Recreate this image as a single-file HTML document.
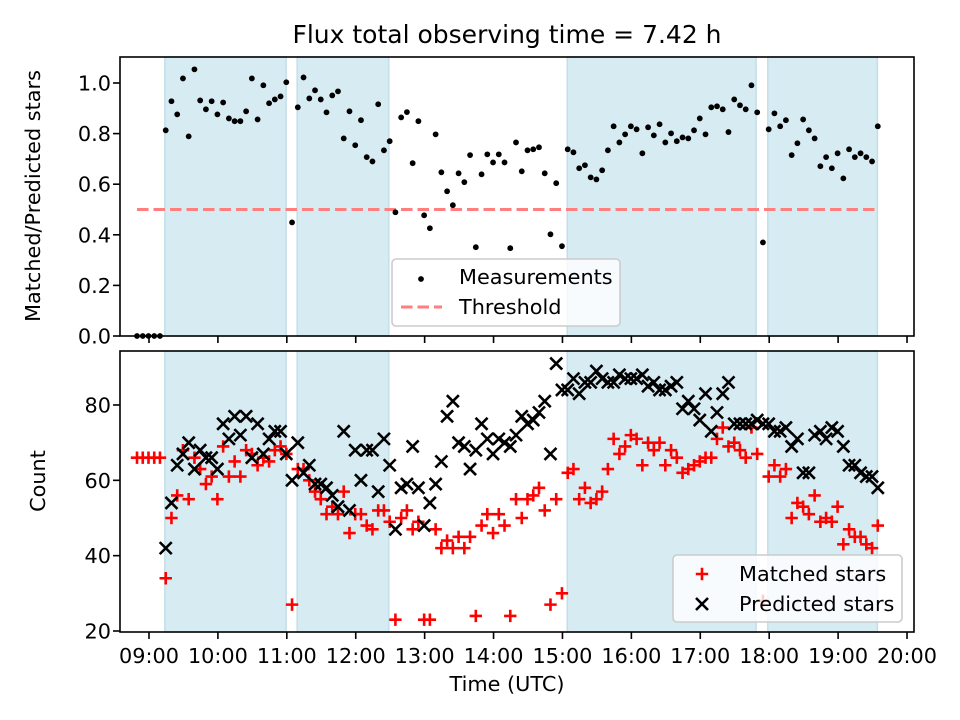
<!DOCTYPE html>
<html><head><meta charset="utf-8"><style>
html,body{margin:0;padding:0;background:#fff;}
svg{display:block;font-family:"DejaVu Sans","Liberation Sans",sans-serif;}
</style></head><body>
<svg id="fig" width="960" height="720" viewBox="0 0 960 720" xmlns="http://www.w3.org/2000/svg">
<rect x="0" y="0" width="960" height="720" fill="#fff"/>
<text x="507" y="43" font-size="25" text-anchor="middle">Flux total observing time = 7.42 h</text>
<g id="topPanel"></g>
<g id="botPanel"></g>
<text transform="translate(40,196) rotate(-90)" font-size="20.8" text-anchor="middle">Matched/Predicted stars</text>
<text transform="translate(45,481) rotate(-90)" font-size="20.8" text-anchor="middle">Count</text>
<text x="507" y="691" font-size="20.8" text-anchor="middle">Time (UTC)</text>
</svg>
<script>
const startHour = 8.826;
const stepMinutes = 5;
const ratio = [0,0,0,0,0,
.813,.928,.876,1.018,.789,1.054,.931,.896,.928,.876,.923,.860,.849,.849,.888,1.018,.856,.991,.920,.935,.947,1.003,.449,.904,1.022,
.939,.971,.935,.884,.951,.967,.781,.888,.754,.853,
.707,.690,.916,.734,.770,.489,.864,.885,.683,.849,
.477,.426,.797,.647,.572,.517,.643,.608,.715,.351,
.639,.718,.686,.718,.686,.347,.765,.651,.734,.738,
.746,.643,.402,.604,.355,.738,.726,.663,.675,.627,
.619,.655,.734,.829,.765,.797,.829,.817,.722,.825,
.793,.837,.765,.801,.770,.785,.781,.813,.860,.797,
.904,.908,.896,.806,.935,.912,.896,.991,.884,.370,
.817,.880,.829,.853,.715,.762,.856,.813,.781,.671,
.707,.663,.722,.623,.738,.707,.722,.707,.690,.829];
const matched = [66,66,66,66,66,
34,50,56,68,55,66,63,59,61,55,69,61,65,61,68,67,64,66,65,68,69,67,27,63,63,
60,57,55,51,53,51,57,46,51,51,
48,47,52,52,49,23,50,52,47,49,
23,23,47,42,44,42,45,42,45,24,
48,51,46,51,48,24,55,50,55,56,
58,52,27,55,30,62,63,55,58,54,
55,57,63,71,67,69,72,71,64,70,
68,70,64,68,66,62,63,64,65,66,
66,71,74,69,70,68,66,74,67,28,
61,64,61,63,50,54,53,51,56,49,
50,49,53,43,47,45,45,43,42,48];
const predicted = [null,null,null,null,null,
42,54,64,67,70,63,68,66,66,63,75,71,77,72,77,66,75,67,71,73,73,67,60,70,62,
64,59,59,58,56,53,73,52,68,60,
68,68,57,71,64,47,58,59,69,58,
48,54,59,65,77,81,70,69,63,68,
75,71,67,71,70,69,72,77,75,76,
78,81,67,91,84,84,87,83,86,86,
89,87,86,86,88,87,87,87,88,85,
86,84,84,85,86,79,81,79,76,83,
73,78,83,86,75,75,75,75,76,75,
75,73,73,74,69,71,62,62,72,73,
71,74,73,69,64,64,62,61,61,58];
const spanStarts = [9.23, 11.15, 15.07, 17.98];
const spanEnds = [10.99, 12.48, 17.81, 19.57];
const threshold = 0.5;
const xTickHours = [9,10,11,12,13,14,15,16,17,18,19,20];
const xTickLabels = ["09:00","10:00","11:00","12:00","13:00","14:00","15:00","16:00","17:00","18:00","19:00","20:00"];
const topTicks = [0.0,0.2,0.4,0.6,0.8,1.0];
const topTickLabels = ["0.0","0.2","0.4","0.6","0.8","1.0"];
const botTicks = [20,40,60,80];
const botTickLabels = ["20","40","60","80"];

const NS = "http://www.w3.org/2000/svg";
const L = 120, R = 914;
const TT = 57, TB = 336, BT = 351, BB = 632;
function xS(h){ return 149 + (h - 9) * 68.91; }
function yTop(v){ return 336 - v * 253; }
function yBot(c){ return 631 - (c - 20) * 3.767; }
function mk(tag, attrs, parent){
  const e = document.createElementNS(NS, tag);
  for (const k in attrs) e.setAttribute(k, attrs[k]);
  parent.appendChild(e);
  return e;
}
const topG = document.getElementById('topPanel');
const botG = document.getElementById('botPanel');
const times = ratio.map((_, i) => startHour + i * stepMinutes / 60);

[[topG, TT, TB], [botG, BT, BB]].forEach(([g, y0, y1]) => {
  for (let i = 0; i < spanStarts.length; i++) {
    const r = mk('rect', {x: xS(spanStarts[i]), y: y0, width: xS(spanEnds[i]) - xS(spanStarts[i]), height: y1 - y0, fill: '#d6ebf2', stroke: '#c2dfe9', 'stroke-width': 1.5}, g);
    
    
  }
});

const th = mk('line', {x1: xS(times[0]), x2: xS(times[times.length-1]), y1: yTop(threshold), y2: yTop(threshold), stroke: '#ff7f7f', 'stroke-width': 3, 'stroke-dasharray': '11.5 5'}, topG);


ratio.forEach((v, i) => {
  const c = mk('circle', {cx: xS(times[i]), cy: yTop(v), r: 2.9, fill: '#000'}, topG);
  
  
});

function plus(g, x, y){
  mk('path', {d: `M${x-6.2},${y}H${x+6.2}M${x},${y-6.2}V${y+6.2}`, stroke: '#ff0000', 'stroke-width': 2.6, fill: 'none'}, g);
}
function cross(g, x, y){
  mk('path', {d: `M${x-6},${y-6}L${x+6},${y+6}M${x-6},${y+6}L${x+6},${y-6}`, stroke: '#000', 'stroke-width': 2.6, fill: 'none'}, g);
}
matched.forEach((v, i) => {
  if (v === null) return;
  const g = mk('g', {}, botG);
  
  
  plus(g, xS(times[i]), yBot(v));
});
predicted.forEach((v, i) => {
  if (v === null) return;
  const g = mk('g', {}, botG);
  
  
  cross(g, xS(times[i]), yBot(v));
});

[[topG, TT, TB, false], [botG, BT, BB, true]].forEach(([g, y0, y1, lab]) => {
  const f = mk('rect', {x: L, y: y0, width: R - L, height: y1 - y0, fill: 'none', stroke: '#000', 'stroke-width': 1.6}, g);
  
  
  xTickHours.forEach((h, i) => {
    const x = xS(h);
    mk('line', {x1: x, x2: x, y1: y1, y2: y1 + 7, stroke: '#000', 'stroke-width': 1.6}, g);
    if (lab) {
      const t = mk('text', {x: x, y: 663, 'font-size': 20.8, 'text-anchor': 'middle'}, g);
      t.textContent = xTickLabels[i];
      
      
    }
  });
});
topTicks.forEach((v, i) => {
  const y = yTop(v);
  mk('line', {x1: L - 7, x2: L, y1: y, y2: y, stroke: '#000', 'stroke-width': 1.6}, topG);
  const t = mk('text', {x: 111, y: y + 7.5, 'font-size': 20.8, 'text-anchor': 'end'}, topG);
  t.textContent = topTickLabels[i];
  
  
});
botTicks.forEach((v, i) => {
  const y = yBot(v);
  mk('line', {x1: L - 7, x2: L, y1: y, y2: y, stroke: '#000', 'stroke-width': 1.6}, botG);
  const t = mk('text', {x: 111, y: y + 7.5, 'font-size': 20.8, 'text-anchor': 'end'}, botG);
  t.textContent = botTickLabels[i];
  
  
});

const lg1 = mk('g', {}, topG);


mk('rect', {x: 392, y: 259, width: 228, height: 67, rx: 4, fill: '#ffffff', 'fill-opacity': 0.8, stroke: '#cccccc', 'stroke-width': 1.6}, lg1);
mk('circle', {cx: 421, cy: 279, r: 2.9, fill: '#000'}, lg1);
const t1 = mk('text', {x: 459, y: 284, 'font-size': 20.8}, lg1); t1.textContent = 'Measurements';
mk('line', {x1: 401, x2: 442, y1: 307, y2: 307, stroke: '#ff7f7f', 'stroke-width': 3, 'stroke-dasharray': '11.5 5'}, lg1);
const t2 = mk('text', {x: 459, y: 314, 'font-size': 20.8}, lg1); t2.textContent = 'Threshold';

const lg2 = mk('g', {}, botG);


mk('rect', {x: 673, y: 555, width: 229, height: 67, rx: 4, fill: '#ffffff', 'fill-opacity': 0.8, stroke: '#cccccc', 'stroke-width': 1.6}, lg2);
plus(lg2, 702, 574);
const t3 = mk('text', {x: 739, y: 581, 'font-size': 20.8}, lg2); t3.textContent = 'Matched stars';
cross(lg2, 702, 604);
const t4 = mk('text', {x: 739, y: 611, 'font-size': 20.8}, lg2); t4.textContent = 'Predicted stars';
</script>
</body></html>
